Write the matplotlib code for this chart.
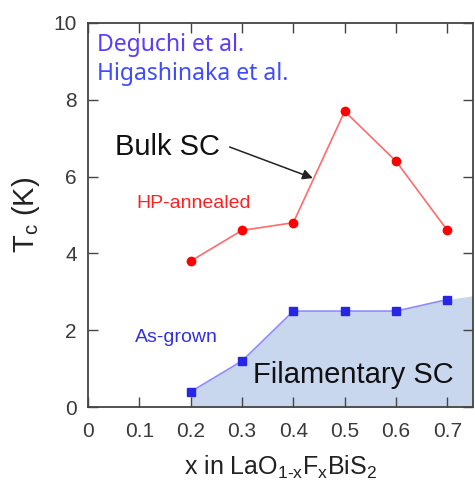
import matplotlib
matplotlib.use('Agg')
import matplotlib.pyplot as plt

plt.rcParams['font.family'] = ['Liberation Sans', 'DejaVu Sans']
plt.rcParams['mathtext.fontset'] = 'custom'
plt.rcParams['mathtext.rm'] = 'Liberation Sans'
plt.rcParams['mathtext.it'] = 'Liberation Sans'

# F content x and Tc values
x_hp = [0.2, 0.3, 0.4, 0.5, 0.6, 0.7]
tc_hp = [3.8, 4.6, 4.8, 7.7, 6.4, 4.6]

x_as = [0.2, 0.3, 0.4, 0.5, 0.6, 0.7]
tc_as = [0.4, 1.2, 2.5, 2.5, 2.5, 2.8]

# shaded filamentary region continues to the right edge
x_fill = x_as + [0.75]
tc_fill = tc_as + [2.9]

xticks = [0, 0.1, 0.2, 0.3, 0.4, 0.5, 0.6, 0.7]
xticklabels = ['0', '0.1', '0.2', '0.3', '0.4', '0.5', '0.6', '0.7']
yticks = [0, 2, 4, 6, 8, 10]

fig = plt.figure(figsize=(4.75, 4.87), dpi=100)
ax = fig.add_axes([0.185, 0.164, 0.811, 0.789])

ax.fill_between(x_fill, 0, tc_fill, color='#c8d6ee', lw=0, zorder=1)
ax.plot(x_as, tc_as, color='#8c8cff', lw=1.2, marker='s', ms=6,
        mfc='#2626e6', mec='#2626e6', zorder=3)
ax.plot(x_hp, tc_hp, color='#ff6a6a', lw=1.2, marker='o', ms=6,
        mfc='#ff0000', mec='#ff0000', zorder=3)

ax.set_xlim(0, 0.75)
ax.set_ylim(0, 10)
ax.set_xticks(xticks)
ax.set_xticklabels(xticklabels)
ax.set_yticks(yticks)
ax.tick_params(direction='in', top=True, right=True, length=7, width=1,
               labelsize=15, labelcolor='#3a3a3a', color='#444444')
ax.tick_params(axis='x', pad=11)
ax.tick_params(axis='y', pad=8)
for s in ax.spines.values():
    s.set_color('#444444')
    s.set_linewidth(1.3)

ax.set_xlabel(r'x in LaO$_{\mathrm{1\text{-}x}}$F$_{\mathrm{x}}$BiS$_{\mathrm{2}}$',
              fontsize=18, color='#222222', labelpad=9)
ax.set_ylabel(r'T$_{\mathrm{c}}$ (K)', fontsize=21, color='#222222', labelpad=8)

ax.text(0.017, 9.74, 'Deguchi et al.', color='#5a3cff', fontsize=16.5,
        va='top', family='Noto Sans')
ax.text(0.017, 8.97, 'Higashinaka et al.', color='#3f4cff', fontsize=16.5,
        va='top', family='Noto Sans')
ax.text(0.053, 6.77, 'Bulk SC', color='#111111', fontsize=21, va='center')
ax.text(0.095, 5.31, 'HP-annealed', color='#ff2020', fontsize=14, va='center')
ax.text(0.091, 1.8, 'As-grown', color='#3030dd', fontsize=14, va='center')
ax.text(0.321, 0.83, 'Filamentary SC', color='#111111', fontsize=21, va='center')

ax.annotate('', xy=(0.438, 5.96), xytext=(0.276, 6.77),
            arrowprops=dict(arrowstyle='-|>', color='#222222', lw=1.1,
                            mutation_scale=15, shrinkA=0, shrinkB=0))

fig.savefig('out.png', dpi=100)
